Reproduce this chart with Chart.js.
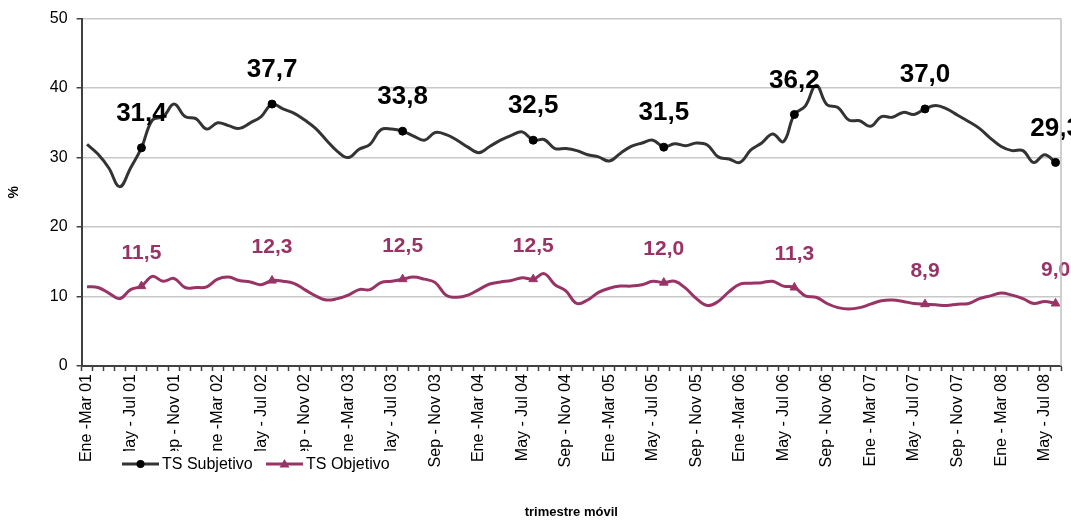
<!DOCTYPE html>
<html>
<head>
<meta charset="utf-8">
<script src="https://cdn.jsdelivr.net/npm/chart.js@4.4.1/dist/chart.umd.min.js"></script>
<style>
  html, body { margin: 0; background: #fff; }
</style>
</head>
<body>
<canvas id="ts-chart" width="1071" height="520"></canvas>
<script>
(function () {
    // month abbreviations used to name the moving trimesters
    const months = ['Ene', 'Feb', 'Mar', 'Abr', 'May', 'Jun', 'Jul', 'Ago', 'Sep', 'Oct', 'Nov', 'Dic'];

    // labels printed on the axis (every 4th trimester)
    const tickLabels = [
        'Ene -Mar 01', 'May - Jul 01', 'Sep - Nov 01',
        'Ene -Mar 02', 'May - Jul 02', 'Sep - Nov 02',
        'Ene -Mar 03', 'May - Jul 03', 'Sep - Nov 03',
        'Ene -Mar 04', 'May - Jul 04', 'Sep - Nov 04',
        'Ene -Mar 05', 'May - Jul 05', 'Sep - Nov 05',
        'Ene -Mar 06', 'May - Jul 06', 'Sep - Nov 06',
        'Ene - Mar 07', 'May - Jul 07', 'Sep - Nov 07',
        'Ene - Mar 08', 'May - Jul 08',
    ];

    const tsSubjetivo = [
        31.9, 30.5, 28.5, 25.8, 28.5, 31.4, 35.4, 35.9, 37.7, 35.9,
        35.6, 34.1, 35.0, 34.6, 34.2, 35.0, 35.9, 37.7, 37.0, 36.4,
        35.4, 34.2, 32.5, 30.9, 30.0, 31.2, 31.9, 34.0, 34.1, 33.8,
        33.1, 32.5, 33.6, 33.3, 32.5, 31.5, 30.7, 31.6, 32.5, 33.2,
        33.7, 32.5, 32.6, 31.3, 31.3, 31.0, 30.4, 30.1, 29.5, 30.6,
        31.6, 32.1, 32.5, 31.5, 32.0, 31.7, 32.1, 31.8, 30.1, 29.8,
        29.3, 31.1, 32.1, 33.4, 32.3, 36.2, 37.4, 40.4, 37.6, 37.2,
        35.4, 35.3, 34.5, 35.9, 35.8, 36.5, 36.2, 37.0, 37.5, 37.0,
        36.1, 35.2, 34.2, 32.8, 31.6, 31.0, 31.0, 29.3, 30.4, 29.3,
    ];

    const tsObjetivo = [
        11.4, 11.3, 10.5, 9.7, 11.0, 11.5, 12.9, 12.2, 12.6, 11.3,
        11.3, 11.4, 12.5, 12.8, 12.3, 12.1, 11.7, 12.3, 12.2, 11.9,
        11.0, 10.1, 9.5, 9.7, 10.2, 11.0, 11.0, 12.0, 12.2, 12.5,
        12.8, 12.5, 12.0, 10.2, 9.9, 10.2, 11.0, 11.8, 12.1, 12.3,
        12.7, 12.5, 13.3, 11.7, 10.8, 9.0, 9.5, 10.6, 11.2, 11.5,
        11.5, 11.7, 12.2, 12.0, 12.2, 11.2, 9.7, 8.7, 9.3, 10.7,
        11.8, 11.9, 12.0, 12.2, 11.5, 11.3, 10.1, 9.9, 9.0, 8.4,
        8.2, 8.4, 8.9, 9.4, 9.5, 9.3, 9.0, 8.9, 8.8, 8.7,
        8.9, 9.0, 9.7, 10.1, 10.5, 10.2, 9.7, 9.0, 9.3, 9.0,
    ];

    // Jun - Ago of each year gets a marker and a value label
    const labelledPoints = [5, 17, 29, 41, 53, 65, 77, 89];

    const FONT = 'Liberation Sans, Arial, sans-serif';
    const GREY = '#333333';
    const PLUM = '#993366';

    // names of the 90 moving trimesters, Ene-Mar 01 .. Jun-Ago 08
    const categories = tsSubjetivo.map(function (v, i) {
        const yy = String(1 + Math.floor(i / 12)).padStart(2, '0');
        return months[i % 12] + ' - ' + months[(i + 2) % 12] + ' ' + yy;
    });

    function fmt(v) {
        return v.toFixed(1).replace('.', ',');
    }

    function markerRadius(r) {
        return ctx => labelledPoints.includes(ctx.dataIndex) ? r : 0;
    }

    const valueLabels = {
        id: 'valueLabels',
        afterDatasetsDraw(chart) {
            const c = chart.ctx;
            chart.data.datasets.forEach(function (ds, di) {
                const meta = chart.getDatasetMeta(di);
                c.save();
                c.font = ds.labelFont;
                c.fillStyle = ds.labelColor;
                c.textAlign = 'center';
                c.textBaseline = 'middle';
                labelledPoints.forEach(function (i) {
                    const p = meta.data[i];
                    c.fillText(fmt(ds.data[i]), p.x, p.y - ds.labelGap);
                });
                c.restore();
            });
        },
        afterDraw(chart) {
            const c = chart.ctx;
            const area = chart.chartArea;
            c.save();
            // plot area right border
            c.strokeStyle = '#c0c0c0';
            c.lineWidth = 1.5;
            c.beginPath();
            c.moveTo(area.right, area.top);
            c.lineTo(area.right, area.bottom);
            c.stroke();

            // legend box sits over the tick labels, like the original
            c.fillStyle = '#fff';
            c.fillRect(116, 451, 284, 27);
            const y = 464;
            let x = 122;
            c.font = '16px ' + FONT;
            c.textBaseline = 'middle';
            chart.data.datasets.forEach(function (ds) {
                c.strokeStyle = ds.borderColor;
                c.fillStyle = ds.borderColor;
                c.lineWidth = 3;
                c.beginPath();
                c.moveTo(x, y);
                c.lineTo(x + 37, y);
                c.stroke();
                const mx = x + 18.5;
                c.beginPath();
                if (ds.pointStyle === 'triangle') {
                    c.moveTo(mx, y - 5);
                    c.lineTo(mx + 5, y + 3.5);
                    c.lineTo(mx - 5, y + 3.5);
                    c.closePath();
                } else {
                    c.arc(mx, y, 4, 0, Math.PI * 2);
                    c.fillStyle = '#000';
                }
                c.fill();
                c.fillStyle = '#000';
                c.fillText(ds.label, x + 40, y + 1);
                x += 144;
            });
            c.restore();
        },
    };

    Chart.defaults.font.family = FONT;
    Chart.defaults.color = '#000';

    new Chart(document.getElementById('ts-chart'), {
        type: 'line',
        data: {
            labels: categories,
            datasets: [
                {
                    label: 'TS Subjetivo',
                    data: tsSubjetivo,
                    borderColor: GREY,
                    borderWidth: 3,
                    tension: 0.4,
                    pointStyle: 'circle',
                    pointRadius: markerRadius(4),
                    pointBackgroundColor: '#000',
                    pointBorderColor: '#000',
                    pointBorderWidth: 1,
                    labelFont: 'bold 26px ' + FONT,
                    labelColor: '#000',
                    labelGap: 34,
                },
                {
                    label: 'TS Objetivo',
                    data: tsObjetivo,
                    borderColor: PLUM,
                    borderWidth: 3,
                    tension: 0.4,
                    pointStyle: 'triangle',
                    pointRadius: markerRadius(5),
                    pointBackgroundColor: PLUM,
                    pointBorderColor: PLUM,
                    pointBorderWidth: 1,
                    labelFont: 'bold 21px ' + FONT,
                    labelColor: PLUM,
                    labelGap: 33,
                },
            ],
        },
        options: {
            responsive: false,
            animation: false,
            layout: {
                padding: {left: 0, right: 10, top: 17, bottom: 0},
            },
            plugins: {
                legend: {display: false},
                tooltip: {enabled: false},
            },
            scales: {
                x: {
                    offset: true,
                    // rotated labels would otherwise reserve extra room on the right
                    afterFit: function (scale) {
                        scale.paddingLeft = 0;
                        scale.paddingRight = 0;
                    },
                    grid: {
                        offset: true,
                        drawOnChartArea: false,
                        tickLength: 5,
                        tickColor: '#404040',
                        tickWidth: 1.5,
                    },
                    border: {color: '#404040', width: 2},
                    ticks: {
                        autoSkip: false,
                        minRotation: 90,
                        maxRotation: 90,
                        padding: 3,
                        font: {size: 16},
                        callback: (value, index) => index % 4 === 0 ? tickLabels[index / 4] : '',
                    },
                    title: {
                        display: true,
                        text: 'trimestre móvil',
                        font: {size: 13, weight: 'bold'},
                        padding: {top: 34, bottom: 0},
                    },
                },
                y: {
                    min: 0,
                    max: 50,
                    grid: {
                        color: '#c8c8c8',
                        lineWidth: 1.5,
                        tickLength: 5,
                        tickColor: '#404040',
                        tickWidth: 1.5,
                    },
                    border: {color: '#404040', width: 2},
                    ticks: {
                        stepSize: 10,
                        padding: 9,
                        font: {size: 16},
                    },
                    title: {
                        display: true,
                        text: '%',
                        font: {size: 14, weight: 'bold'},
                        padding: {top: 6, bottom: 18},
                    },
                },
            },
        },
        plugins: [valueLabels],
    });
})();
</script>
</body>
</html>
